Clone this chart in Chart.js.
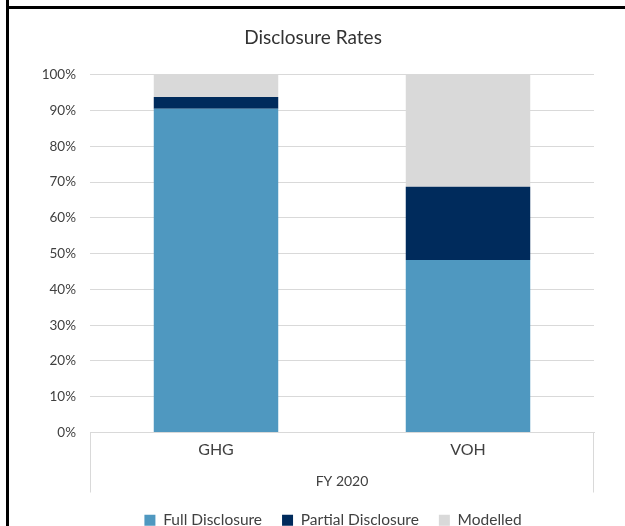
<!DOCTYPE html>
<html>
<head>
<meta charset="utf-8">
<script src="https://cdn.jsdelivr.net/npm/chart.js@4"></script>
<style>
  html, body { margin: 0; padding: 0; background: #fff; overflow: hidden; }
  #wrap { position: absolute; left: 0; top: 0; width: 625px; height: 538px; }
</style>
</head>
<body>
<div id="wrap"><canvas id="chart"></canvas></div>
<script>
// ============================================
// DATA
// ============================================
const categories = ['GHG', 'VOH'];
const groupLabels = ['FY 2020'];
const fullDisclosure = [90.5, 48.2];
const partialDisclosure = [3.3, 20.5];
const modelled = [6.2, 31.3];
const seriesNames = ['Full Disclosure', 'Partial Disclosure', 'Modelled'];

const FONT = 'Lato, "DejaVu Sans", sans-serif';
const TEXT = '#404040';
const GRID = '#d9d9d9';

// black frame lines at top/left of the picture
const framePlugin = {
  id: 'frame',
  afterDraw(chart) {
    const c = chart.ctx;
    c.save();
    c.fillStyle = '#000';
    c.fillRect(6, 0, 3, chart.height);
    c.fillRect(6, 6, chart.width, 3);
    c.restore();
  }
};

// title and legend sit a bit right of centre in the original
const boxShift = {
  id: 'boxShift',
  afterLayout(chart) {
    if (chart.legend) {
      chart.legend.left += 36;
      chart.legend.right += 36;
    }
    if (chart.titleBlock) {
      chart.titleBlock.left += 16;
      chart.titleBlock.right += 16;
    }
  }
};

// second level of the category axis (group label + box sides)
const groupAxisPlugin = {
  id: 'groupAxis',
  afterDraw(chart) {
    const { ctx, chartArea } = chart;
    const bottom = chartArea.bottom;
    ctx.save();
    ctx.strokeStyle = GRID;
    ctx.lineWidth = 1;
    ctx.beginPath();
    ctx.moveTo(chartArea.left + 0.5, bottom);
    ctx.lineTo(chartArea.left + 0.5, bottom + 60);
    ctx.moveTo(chartArea.right - 0.5, bottom);
    ctx.lineTo(chartArea.right - 0.5, bottom + 60);
    ctx.stroke();
    ctx.fillStyle = TEXT;
    ctx.font = '14px ' + FONT;
    ctx.textAlign = 'center';
    ctx.textBaseline = 'middle';
    ctx.fillText(groupLabels[0], (chartArea.left + chartArea.right) / 2, bottom + 49);
    ctx.restore();
  }
};

const ctx = document.getElementById('chart');

new Chart(ctx, {
  type: 'bar',
  data: {
    labels: categories,
    datasets: [
      { label: seriesNames[0], data: fullDisclosure, backgroundColor: '#4f98c0' },
      { label: seriesNames[1], data: partialDisclosure, backgroundColor: '#002b5c' },
      { label: seriesNames[2], data: modelled, backgroundColor: '#d9d9d9' }
    ]
  },
  options: {
    responsive: true,
    maintainAspectRatio: false,
    animation: false,
    datasets: {
      bar: { categoryPercentage: 1, barPercentage: 0.494, borderWidth: 0 }
    },
    layout: { padding: { top: 26, left: 0, right: 31, bottom: 0 } },
    plugins: {
      title: {
        display: true,
        text: 'Disclosure Rates',
        color: '#333333',
        font: { family: FONT, size: 19, weight: 'normal' },
        padding: { top: 0, bottom: 26 }
      },
      legend: {
        position: 'bottom',
        labels: {
          color: TEXT,
          font: { family: FONT, size: 15.5 },
          boxWidth: 11,
          boxHeight: 11,
          padding: 20
        }
      },
      tooltip: { enabled: false }
    },
    scales: {
      x: {
        stacked: true,
        grid: { display: false, drawTicks: false },
        border: { color: GRID },
        ticks: { color: TEXT, font: { family: FONT, size: 16 }, padding: 8 },
        afterFit: (scale) => { scale.height = 60; }
      },
      y: {
        stacked: true,
        min: 0,
        max: 100,
        border: { display: false },
        grid: { color: GRID, drawTicks: false },
        ticks: {
          stepSize: 10,
          color: TEXT,
          padding: 14,
          font: { family: FONT, size: 13.5 },
          callback: (v) => v + '%'
        },
        afterFit: (scale) => { scale.width = 90; }
      }
    }
  },
  plugins: [framePlugin, boxShift, groupAxisPlugin]
});
</script>
</body>
</html>
